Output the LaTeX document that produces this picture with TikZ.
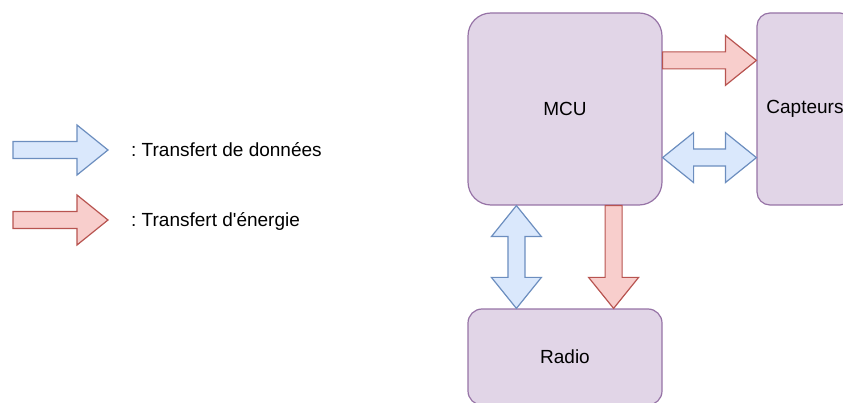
\documentclass[tikz,border=0pt]{standalone}
\usepackage{fontspec}
\setmainfont{Liberation Sans}
\usetikzlibrary{calc}

\definecolor{boxfill}{HTML}{E1D5E7}
\definecolor{boxdraw}{HTML}{9673A6}
\definecolor{datafill}{HTML}{DAE8FC}
\definecolor{datadraw}{HTML}{6C8EBF}
\definecolor{energyfill}{HTML}{F8CECC}
\definecolor{energydraw}{HTML}{B85450}

\newcommand{\arrshaft}{8.5pt}
\newcommand{\arrhead}{25pt}
\newcommand{\arrtip}{31pt}

% block arrow from #2 to #3
\newcommand{\singlearrow}[3]{%
  \draw[#1] ($(#2)!\arrshaft!90:(#3)$)
    -- ($($(#3)!\arrtip!(#2)$)!\arrshaft!-90:(#2)$)
    -- ($($(#3)!\arrtip!(#2)$)!\arrhead!-90:(#2)$)
    -- (#3)
    -- ($($(#3)!\arrtip!(#2)$)!\arrhead!90:(#2)$)
    -- ($($(#3)!\arrtip!(#2)$)!\arrshaft!90:(#2)$)
    -- ($(#2)!\arrshaft!-90:(#3)$) -- cycle;}

% block arrow with two heads between #2 and #3
\newcommand{\doublearrow}[3]{%
  \draw[#1] (#2)
    -- ($($(#2)!\arrtip!(#3)$)!\arrhead!90:(#3)$)
    -- ($($(#2)!\arrtip!(#3)$)!\arrshaft!90:(#3)$)
    -- ($($(#3)!\arrtip!(#2)$)!\arrshaft!-90:(#2)$)
    -- ($($(#3)!\arrtip!(#2)$)!\arrhead!-90:(#2)$)
    -- (#3)
    -- ($($(#3)!\arrtip!(#2)$)!\arrhead!90:(#2)$)
    -- ($($(#3)!\arrtip!(#2)$)!\arrshaft!90:(#2)$)
    -- ($($(#2)!\arrtip!(#3)$)!\arrshaft!-90:(#3)$)
    -- ($($(#2)!\arrtip!(#3)$)!\arrhead!-90:(#3)$) -- cycle;}

\begin{document}
\frenchspacing
\begin{tikzpicture}[x=1pt,y=1pt,
    block/.style={draw=boxdraw,fill=boxfill,line width=1.2pt,inner sep=0pt,
      font=\fontsize{19}{23}\selectfont},
    data/.style={draw=datadraw,fill=datafill,line width=1.2pt},
    energy/.style={draw=energydraw,fill=energyfill,line width=1.2pt},
    legend/.style={inner sep=0pt,anchor=base west,font=\fontsize{19}{23}\selectfont}]
		\clip (0,0) rectangle (843,-403);
		
		% Blocks
		\node[block,rounded corners=23pt,minimum width=194pt,minimum height=192pt] (mcu) at (565,-109) {MCU};
		\node[block,rounded corners=13pt,minimum width=96pt,minimum height=192pt] (capt) at (805,-109) {Capteurs};
		\node[block,rounded corners=14pt,minimum width=194pt,minimum height=96pt] (radio) at (565,-357) {Radio};
		
		% Arrows
		\coordinate (e1) at ($(mcu.north east)+(0,-48)$);
		\coordinate (d1) at ($(mcu.south east)+(0,48)$);
		\coordinate (d2) at ($(mcu.south west)+(49,0)$);
		\coordinate (e2) at ($(mcu.south east)+(-49,0)$);
		\singlearrow{energy}{e1}{capt.west |- e1}
		\doublearrow{data}{d1}{capt.west |- d1}
		\doublearrow{data}{d2}{radio.north -| d2}
		\singlearrow{energy}{e2}{radio.north -| e2}
		
		% Legend
		\coordinate (l1) at (13,-150);
		\coordinate (l2) at (13,-220);
		\singlearrow{data}{l1}{108,-150}
		\singlearrow{energy}{l2}{108,-220}
		\node[legend] (ldata) at (131,-157) {: Transfert de données};
		\node[legend] (lenergy) at (131,-227) {: Transfert d\textquotesingle énergie};
\end{tikzpicture}
\end{document}
